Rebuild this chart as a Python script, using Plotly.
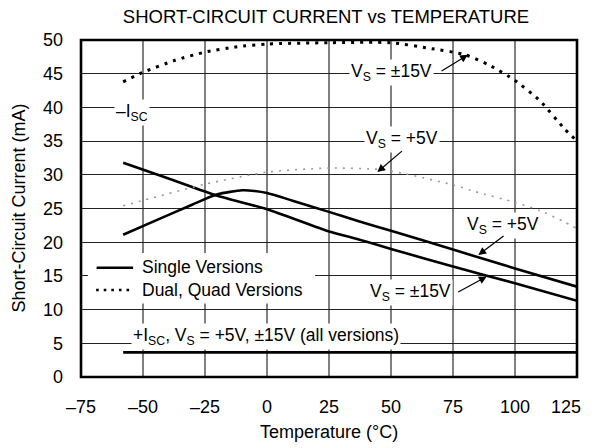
import plotly.graph_objects as go

# ---- data ----
temp_single_15 = [-58, -40, -20, 0, 25, 37, 50, 75, 100, 125]
isc_single_15 = [31.8, 29.5, 26.9, 24.9, 21.6, 20.4, 19.0, 16.4, 13.9, 11.3]

temp_single_5 = [-58, -45, -30, -20, -10, -5, 0, 10, 25, 37, 50, 75, 100, 125]
isc_single_5 = [21.1, 23.2, 25.6, 27.1, 27.7, 27.6, 27.3, 26.2, 24.5, 23.1, 21.7, 18.9, 16.1, 13.4]

temp_dual_15 = [-58, -50, -37, -25, -12, 0, 25, 50, 65, 80, 90, 100, 110, 120, 125]
isc_dual_15 = [43.8, 45.2, 47.0, 48.2, 49.0, 49.4, 49.6, 49.6, 48.8, 47.8, 46.2, 44.0, 41.0, 36.8, 35.0]

temp_dual_5 = [-58, -50, -25, 0, 25, 45, 55, 75, 84, 100, 110, 120, 125]
isc_dual_5 = [25.4, 26.2, 28.6, 30.4, 31.0, 30.8, 30.2, 28.5, 27.5, 25.9, 24.7, 23.0, 22.0]

temp_pos = [-58, 125]
isc_pos = [3.66, 3.66]

x_ticks = [-75, -50, -25, 0, 25, 50, 75, 100]
x_tick_text = ["\u201375", "\u201350", "\u201325", "0", "25", "50", "75", "100"]
x_last_tick = "125"   # right-edge label, drawn right-aligned to stay inside the page
y_ticks = [0, 5, 10, 15, 20, 25, 30, 35, 40, 45, 50]

legend_names = ["Single Versions", "Dual, Quad Versions"]

FONT = "Liberation Sans, Arial, sans-serif"
SOLID = dict(color="black", width=2.6, shape="spline", smoothing=0.6)
DOTS = dict(color="black", width=3, dash="3px,6px", shape="spline", smoothing=0.6)

fig = go.Figure()
fig.add_trace(go.Scatter(x=temp_single_15, y=isc_single_15, mode="lines", line=SOLID, name="Single, VS=±15V"))
fig.add_trace(go.Scatter(x=temp_single_5, y=isc_single_5, mode="lines", line=SOLID, name="Single, VS=+5V"))
fig.add_trace(go.Scatter(x=temp_dual_15, y=isc_dual_15, mode="lines", line=DOTS, name="Dual, VS=±15V"))
fig.add_trace(go.Scatter(x=temp_dual_5, y=isc_dual_5, mode="lines",
                         line=dict(color="#9a9a9a", width=1.6, dash="2px,6px", shape="spline", smoothing=0.6),
                         name="Dual, VS=+5V"))
fig.add_trace(go.Scatter(x=temp_pos, y=isc_pos, mode="lines", line=dict(color="black", width=2.6), name="+ISC"))

ann_font = dict(family=FONT, size=17.5, color="black")
labels = [
    ("\u2013I<sub>SC</sub>", -54.3, 39.3),
    ("V<sub>S</sub> = \u00b115V", 50.4, 45.2),
    ("V<sub>S</sub> = +5V", 54.3, 35.2),
    ("V<sub>S</sub> = +5V", 95.3, 22.5),
    ("V<sub>S</sub> = \u00b115V", 57.8, 12.5),
    ("+I<sub>SC</sub>, V<sub>S</sub> = +5V, \u00b115V (all versions)", -0.5, 6.0),
]
for txt, x, y in labels:
    fig.add_annotation(x=x, y=y, xref="x", yref="y", text=txt, showarrow=False,
                       font=ann_font, bgcolor="white", borderpad=1)

arrows = [
    (81.0, 47.8, 69.8, 45.25),
    (44.5, 30.4, 55.0, 33.7),
    (85.2, 18.1, 96.0, 21.1),
    (88.6, 14.9, 76.5, 12.5),
]
for x, y, ax, ay in arrows:
    fig.add_annotation(x=x, y=y, ax=ax, ay=ay, xref="x", yref="y", axref="x", ayref="y",
                       text="", showarrow=True, arrowhead=2, arrowsize=1.3, arrowwidth=1.2,
                       arrowcolor="black", standoff=0)

# in-plot legend (white box hides grid, drawn under traces)
fig.add_shape(type="rect", xref="x", yref="y", x0=-72.2, x1=19.4, y0=10.9, y1=18.4,
              line=dict(width=0), fillcolor="white", layer="between")
fig.add_shape(type="line", xref="x", yref="y", x0=-68.7, x1=-54.0, y0=16.2, y1=16.2,
              line=dict(color="black", width=2.6), layer="above")
fig.add_shape(type="line", xref="x", yref="y", x0=-68.9, x1=-54.0, y0=12.9, y1=12.9,
              line=dict(color="black", width=2.6, dash="2.6px,5px"), layer="above")
for name, y in zip(legend_names, [16.3, 12.9]):
    fig.add_annotation(x=-51.4, y=y, xref="x", yref="y", text=name, showarrow=False,
                       xanchor="left", yanchor="middle", font=ann_font)

# last x tick label, right-aligned at the plot edge like the reference
fig.add_annotation(text=x_last_tick, x=1.0127, y=-30 / 337, xref="paper", yref="paper",
                   xanchor="right", yanchor="middle", showarrow=False,
                   font=dict(family=FONT, size=18, color="black"))

# axis titles placed in pixel-aligned paper positions
fig.add_annotation(text="Temperature (\u00b0C)", x=0.5, y=-55 / 337, xref="paper", yref="paper",
                   xanchor="center", yanchor="middle", showarrow=False, font=dict(family=FONT, size=18, color="black"))
fig.add_annotation(text="Short-Circuit Current (mA)", x=-63 / 496, y=0.5, xref="paper", yref="paper",
                   xanchor="center", yanchor="middle", textangle=-90, showarrow=False,
                   font=dict(family=FONT, size=18, color="black"))

# plot frame
fig.add_shape(type="rect", xref="paper", yref="paper", x0=0, x1=1, y0=0, y1=1,
              line=dict(color="black", width=2.6), fillcolor="rgba(0,0,0,0)", layer="above")

fig.update_layout(
    width=592, height=448,
    margin=dict(l=81, r=15, t=40, b=71, autoexpand=False),
    paper_bgcolor="white", plot_bgcolor="white",
    font=dict(family=FONT, size=18, color="black"),
    title=dict(text="SHORT-CIRCUIT CURRENT vs TEMPERATURE", x=326 / 592, xref="container", xanchor="center",
               y=1 - 16.5 / 448, yref="container", yanchor="middle", automargin=False,
               font=dict(family=FONT, size=18.5, color="black")),
    showlegend=False,
)
fig.update_xaxes(range=[-75, 125], tickvals=x_ticks, ticktext=x_tick_text, showgrid=True,
                 gridcolor="#808080", gridwidth=1.6, showline=False,
                 ticks="", zeroline=False, ticklabelstandoff=17, automargin=False)
fig.update_yaxes(range=[0, 50], tickvals=y_ticks, showgrid=True, gridcolor="#222222", gridwidth=1,
                 showline=False, ticks="", zeroline=False,
                 ticklabelstandoff=17, automargin=False)

fig.write_html("out.html", config={"displayModeBar": False},
               post_script="document.body.style.margin='0';document.body.style.overflow='hidden';")
